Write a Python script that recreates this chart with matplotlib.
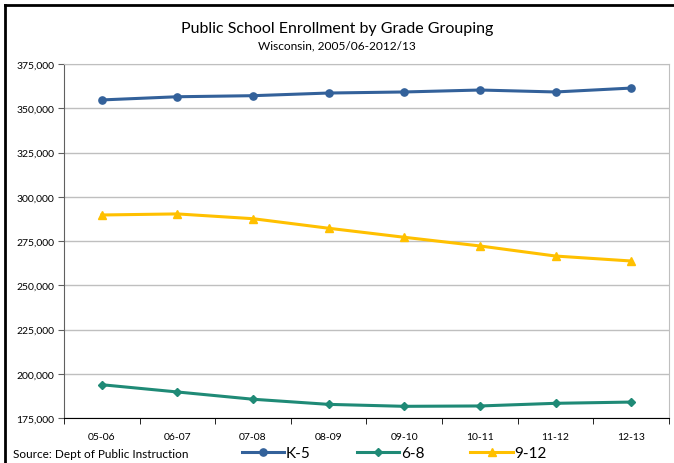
import numpy as np
import matplotlib
matplotlib.use("Agg")
import matplotlib.pyplot as plt
from matplotlib.lines import Line2D

plt.rcParams['font.family'] = ['Lato', 'DejaVu Sans']

# Enrollment by school year
years = ['05-06', '06-07', '07-08', '08-09', '09-10', '10-11', '11-12', '12-13']
k5 = [354700, 356500, 357100, 358600, 359200, 360300, 359200, 361400]
g68 = [193800, 189700, 185600, 182700, 181600, 181800, 183300, 184000]
g912 = [289700, 290300, 287600, 282200, 277100, 272200, 266500, 263700]

azul = '#33619A'
verde = '#1F8A76'
amarillo = '#FFC000'

fig = plt.figure(figsize=(6.74, 4.64), dpi=100)
ax = fig.add_axes([64/674, 1 - 419/464, 605/674, 354/464])

x = np.arange(len(years))
ax.plot(x, k5, '-o', color=azul, lw=2.2, ms=5.2, label='K-5')
ax.plot(x, g68, '-D', color=verde, lw=2.2, ms=4, label='6-8')
ax.plot(x, g912, '-^', color=amarillo, lw=2.2, ms=5.5, label='9-12')

ax.set_xlim(-0.5, len(years) - 0.5)
ax.set_ylim(175000, 375000)
ax.set_yticks(np.arange(175000, 375001, 25000))
ax.set_yticklabels([f'{v:,}' for v in range(175000, 375001, 25000)], fontsize=7.5)
ax.set_xticks(x)
ax.set_xticklabels(years, fontsize=7.5)
ax.set_xticks(np.arange(-0.5, len(years)), minor=True)
ax.tick_params(axis='x', which='major', length=0, pad=10)
ax.tick_params(axis='x', which='minor', length=4, direction='out', color='black')
ax.tick_params(axis='y', length=4, direction='out', color='#606060', pad=3)

ax.grid(axis='y', color='#BFBFBF', lw=1)
ax.set_axisbelow(True)
for s in ['top', 'right']:
    ax.spines[s].set_color('#BFBFBF')
ax.spines['left'].set_color('#606060')
ax.spines['bottom'].set_color('black')

fig.text(0.5, 1 - 29/464, 'Public School Enrollment by Grade Grouping',
         ha='center', va='center', fontsize=11.5)
fig.text(0.5, 1 - 46/464, 'Wisconsin, 2005/06-2012/13',
         ha='center', va='center', fontsize=8.6)
fig.text(13/674, 1 - 455/464, 'Source: Dept of Public Instruction',
         ha='left', va='center', fontsize=8.5)

fig.legend(loc='center', bbox_to_anchor=(0.585, 1 - 454/464), ncol=3,
           frameon=False, fontsize=11, handlelength=2.8, handletextpad=0.1,
           columnspacing=3.0)

# marco exterior
fig.add_artist(Line2D([5/674, 5/674], [0, 1 - 6/464], color='black', lw=2))
fig.add_artist(Line2D([5/674, 1], [1 - 6/464, 1 - 6/464], color='black', lw=2))

fig.savefig('out.png', dpi=100)
